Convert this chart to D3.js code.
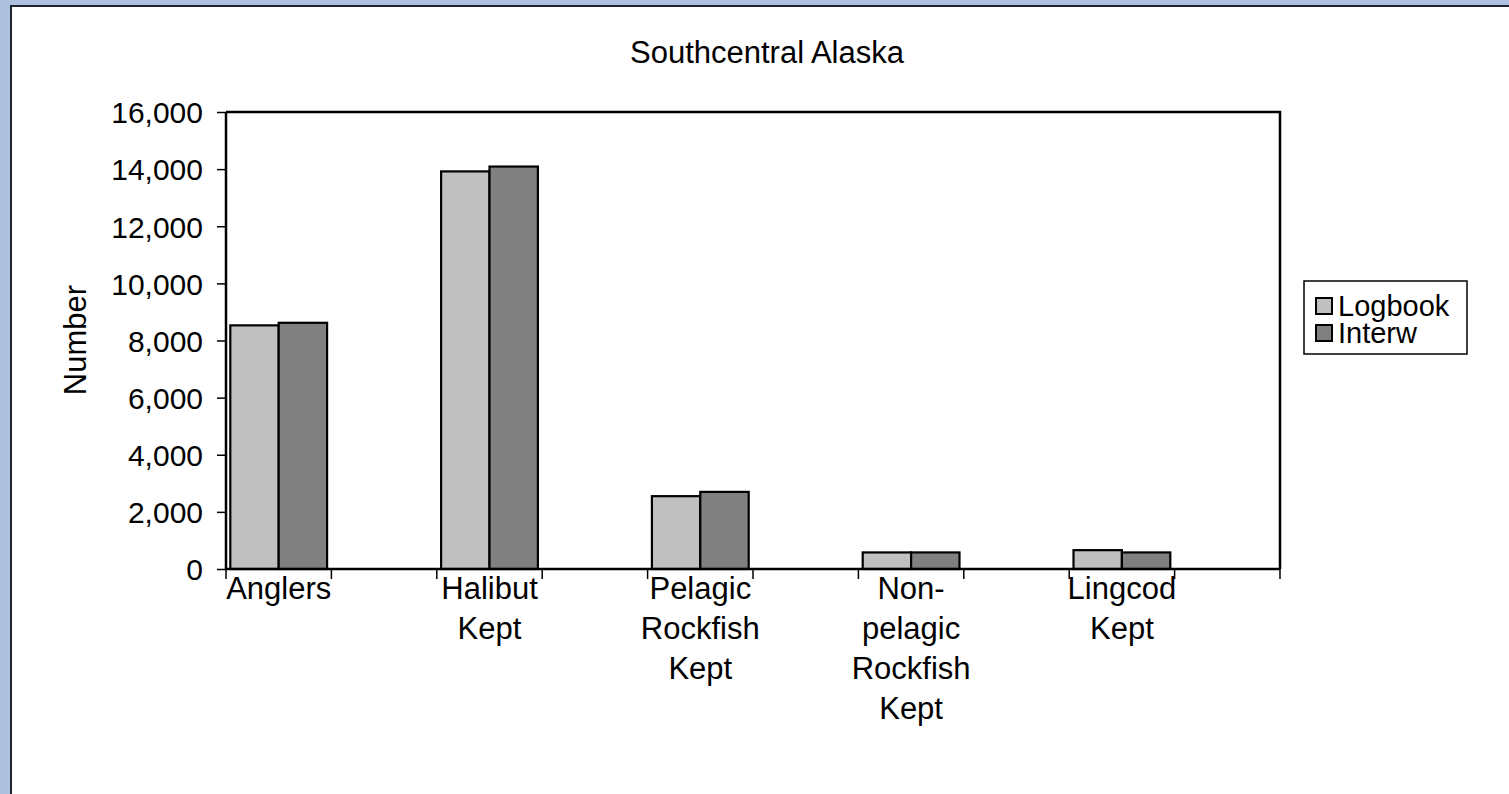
<!DOCTYPE html>
<html>
<head>
<meta charset="utf-8">
<script src="https://cdn.jsdelivr.net/npm/d3@7/dist/d3.min.js"></script>
<style>
  html, body { margin: 0; padding: 0; background: #ffffff; }
  svg { display: block; }
  text { font-family: "Liberation Sans", Arial, sans-serif; fill: #000; }
</style>
</head>
<body>
<svg id="chart" width="1509" height="794"></svg>
<script>
// ---- data ----
const title = "Southcentral Alaska";
const yAxisTitle = "Number";
const categories = ["Anglers", "Halibut Kept", "Pelagic Rockfish Kept", "Non-pelagic Rockfish Kept", "Lingcod Kept"];
const categoryLines = [["Anglers"], ["Halibut", "Kept"], ["Pelagic", "Rockfish", "Kept"], ["Non-", "pelagic", "Rockfish", "Kept"], ["Lingcod", "Kept"]];
const seriesNames = ["Logbook", "Interw"];
const logbook = [8530, 13920, 2550, 580, 660];
const interw = [8620, 14090, 2700, 580, 580];
const yTicks = [0, 2000, 4000, 6000, 8000, 10000, 12000, 14000, 16000];
const seriesColors = ["#c0c0c0", "#808080"];

// ---- layout ----
const svg = d3.select("#chart");
const W = 1509, H = 794;
const plot = { left: 226, top: 112, right: 1280, bottom: 569 };
const FS = 31;
const FS_TICK = 30;

// frame
svg.append("rect").attr("x", 0).attr("y", 0).attr("width", W).attr("height", H).attr("fill", "#adc1de");
svg.append("rect").attr("x", 11).attr("y", 6).attr("width", W).attr("height", H).attr("fill", "#ffffff")
  .attr("stroke", "#1c2333").attr("stroke-width", 2);

// slots: each category followed by an empty slot
const slots = [];
categories.forEach((c, i) => { slots.push("c" + i); slots.push("gap" + i); });

const x0 = d3.scaleBand().domain(slots).range([plot.left, plot.right]).paddingInner(0).paddingOuter(0);
const x1 = d3.scaleBand().domain(seriesNames).range([0, x0.bandwidth()]).paddingInner(0).paddingOuter(0.089);
const y = d3.scaleLinear().domain([0, 16000]).range([plot.bottom, plot.top]);

// plot area border (top/right)
svg.append("path")
  .attr("d", `M${plot.left},${plot.top}H${plot.right}V${plot.bottom}`)
  .attr("fill", "none").attr("stroke", "#000").attr("stroke-width", 2.5);

// bars
const seriesData = [logbook, interw];
const groups = svg.append("g");
categories.forEach((c, i) => {
  seriesNames.forEach((s, j) => {
    const v = seriesData[j][i];
    groups.append("rect")
      .attr("x", x0("c" + i) + x1(s))
      .attr("y", y(v))
      .attr("width", x1.bandwidth())
      .attr("height", y(0) - y(v))
      .attr("fill", seriesColors[j])
      .attr("stroke", "#000")
      .attr("stroke-width", 2.2);
  });
});

// y axis
const yAxis = d3.axisLeft(y).tickValues(yTicks).tickFormat(d3.format(",")).tickSize(9).tickPadding(14);
const gy = svg.append("g").attr("transform", `translate(${plot.left},0)`).call(yAxis);
gy.select(".domain").attr("stroke", "#000").attr("stroke-width", 2.5).attr("d", `M0,${plot.top}V${plot.bottom}`);
gy.selectAll(".tick line").attr("stroke", "#000").attr("stroke-width", 1.5);
gy.selectAll(".tick text")
  .attr("font-size", FS_TICK)
  .attr("font-family", "Liberation Sans, Arial, sans-serif")
  .attr("dy", "0.36em");

// x axis
const xAxis = d3.axisBottom(x0).tickSize(0).tickFormat("");
const gx = svg.append("g").attr("transform", `translate(0,${plot.bottom})`).call(xAxis);
gx.select(".domain").attr("stroke", "#000").attr("stroke-width", 2.5).attr("d", `M${plot.left},0H${plot.right}`);
// boundary ticks
const bounds = slots.map(s => x0(s)).concat([plot.right]);
gx.selectAll(".bound").data(bounds).enter().append("line")
  .attr("x1", d => d).attr("x2", d => d).attr("y1", 0).attr("y2", 10)
  .attr("stroke", "#000").attr("stroke-width", 1.5);

// category labels
categoryLines.forEach((lines, i) => {
  const cx = x0("c" + i) + x0.bandwidth() / 2;
  const t = svg.append("text").attr("text-anchor", "middle").attr("font-size", FS);
  lines.forEach((ln, k) => {
    t.append("tspan").attr("x", cx).attr("y", 599 + k * 40).text(ln);
  });
});

// title
svg.append("text").attr("x", 767).attr("y", 63).attr("text-anchor", "middle").attr("font-size", FS).text(title);

// y axis title
svg.append("text").attr("transform", `translate(86,340) rotate(-90)`).attr("text-anchor", "middle")
  .attr("font-size", FS).text(yAxisTitle);

// legend
const lg = svg.append("g");
lg.append("rect").attr("x", 1304).attr("y", 281).attr("width", 163).attr("height", 73)
  .attr("fill", "#fff").attr("stroke", "#000").attr("stroke-width", 1.5);
seriesNames.forEach((s, j) => {
  const cy = 306 + j * 27;
  lg.append("rect").attr("x", 1316).attr("y", cy - 8).attr("width", 16).attr("height", 16)
    .attr("fill", seriesColors[j]).attr("stroke", "#000").attr("stroke-width", 2);
  lg.append("text").attr("x", 1338).attr("y", cy + 10).attr("font-size", FS - 2).text(s);
});
</script>
</body>
</html>
